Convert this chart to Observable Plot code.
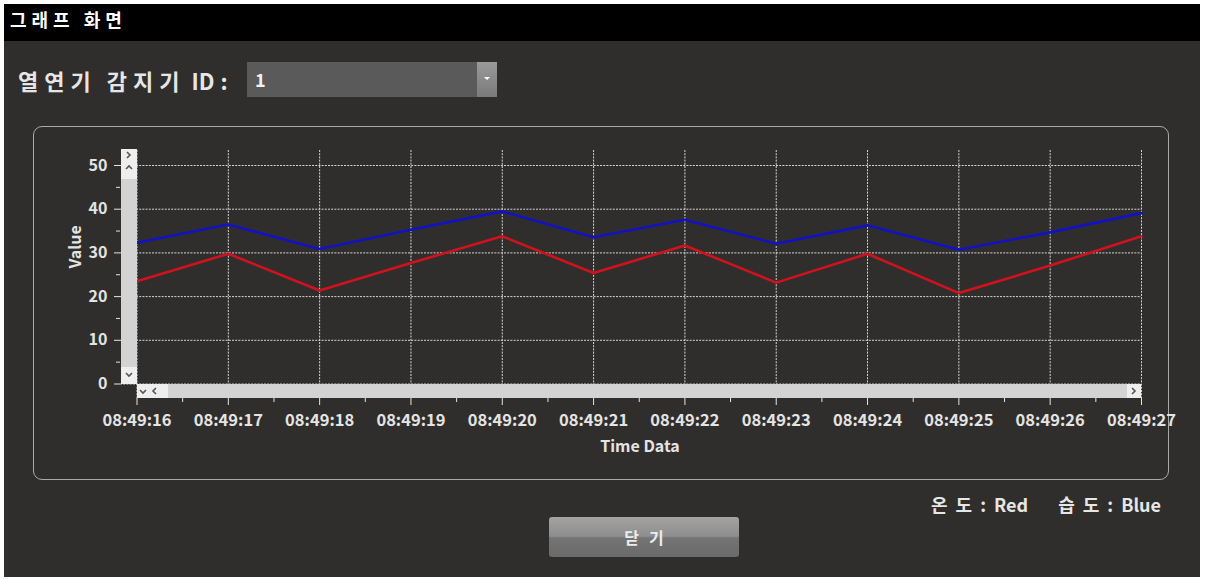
<!DOCTYPE html>
<html>
<head>
<meta charset="utf-8">
<script src="https://cdn.jsdelivr.net/npm/d3@7"></script>
<script src="https://cdn.jsdelivr.net/npm/@observablehq/plot@0.6"></script>
<style>
  html, body { margin: 0; padding: 0; background: #ffffff; width: 1205px; height: 579px; overflow: hidden; }
  body { position: relative; font-family: "Noto Sans CJK KR", "Open Sans", sans-serif; }
  #win { position: absolute; left: 4px; top: 4px; width: 1196px; height: 573px; background: #302e2d; }
  #titlebar { position: absolute; left: 4px; top: 4px; width: 1196px; height: 37px; background: #000; }
  #title { position: absolute; left: 10px; top: 7px; color: #fff; font-size: 18px; font-weight: 700; letter-spacing: 5px; line-height: 24px; }
  #idlabel { position: absolute; left: 18px; top: 65px; color: #e6e6e6; font-size: 22px; font-weight: 700; line-height: 30px; white-space: nowrap; }
  #idlabel span, #legend span { display: inline-block; }
  .ko1 { letter-spacing: 6px; margin-right: 10px; }
  .ko2 { letter-spacing: 6px; margin-right: 6px; }
  .colon { margin-left: 6px; }
  #combo { position: absolute; left: 247px; top: 62px; width: 250px; height: 35px; background: #5a5a5a; }
  #combo .val { position: absolute; left: 8px; top: 4px; color: #f2f2f2; font-size: 18px; font-weight: 700; line-height: 26px; }
  #combo .btn { position: absolute; right: 0; top: 0; width: 20px; height: 35px; background: linear-gradient(#9a9a9a, #7a7a7a); }
  #combo .btn::after { content: ""; position: absolute; left: 7px; top: 15px; border-left: 3px solid transparent; border-right: 3px solid transparent; border-top: 3px solid #fff; }
  #panel { position: absolute; left: 33px; top: 126px; width: 1134px; height: 352px; border: 1.5px solid #a9a9a9; border-radius: 9px; }
  #chart { position: absolute; left: 40px; top: 135px; }
  .sb { position: absolute; background: #d3d3d3; }
  .sbend { position: absolute; background: #eeeeee; }
  .sbend svg { position: absolute; }
  #legend { position: absolute; right: 44px; top: 491px; color: #e6e6e6; font-size: 18px; font-weight: 700; line-height: 26px; white-space: nowrap; }
  #legend .lk { letter-spacing: 8px; }
  #legend .lc { margin: 0 8px 0 0; }
  #legend .gap { width: 30px; }
  #close { position: absolute; left: 549px; top: 517px; width: 190px; height: 40px; border-radius: 3px;
           background: linear-gradient(#a3a3a3 0%, #8e8e8e 48%, #747474 52%, #6a6a6a 100%); color: #ececec; font-size: 16px; font-weight: 700; text-align: center; line-height: 40px; }
  #close span { display: inline-block; letter-spacing: 10px; margin-right: -10px; }
</style>
</head>
<body>
<div id="win"></div>
<div id="titlebar"></div>
<div id="title">그래프 화면</div>
<div id="idlabel"><span class="ko1">열연기</span><span class="ko2">감지기</span><span>ID</span><span class="colon">:</span></div>
<div id="combo"><div class="val">1</div><div class="btn"></div></div>
<div id="panel"></div>
<div id="chart"></div>
<div class="sb" style="left:121px; top:149px; width:16px; height:235px;"></div>
<div class="sbend" style="left:121px; top:149px; width:16px; height:30px;">
  <svg width="16" height="30"><polyline points="6,3 9,6 6,9" fill="none" stroke="#555" stroke-width="1.6"/><polyline points="5,20 8,17 11,20" fill="none" stroke="#555" stroke-width="1.6"/></svg>
</div>
<div class="sbend" style="left:121px; top:367px; width:16px; height:17px;">
  <svg width="16" height="17"><polyline points="5,6 8,9 11,6" fill="none" stroke="#555" stroke-width="1.6"/></svg>
</div>
<div class="sb" style="left:137px; top:384px; width:1004px; height:14px;"></div>
<div class="sbend" style="left:137px; top:384px; width:31px; height:14px;">
  <svg width="31" height="14"><polyline points="3,6 6,9 9,6" fill="none" stroke="#555" stroke-width="1.6"/><polyline points="19,4 16,7 19,10" fill="none" stroke="#555" stroke-width="1.6"/></svg>
</div>
<div class="sbend" style="left:1127px; top:384px; width:14px; height:14px;">
  <svg width="14" height="14"><polyline points="5,4 8,7 5,10" fill="none" stroke="#555" stroke-width="1.6"/></svg>
</div>
<div id="legend"><span class="lk">온도</span><span class="lc">:</span><span>Red</span><span class="gap"></span><span class="lk">습도</span><span class="lc">:</span><span>Blue</span></div>
<div id="close"><span>닫기</span></div>
<script>
// ---- data ----
const times = ["08:49:16","08:49:17","08:49:18","08:49:19","08:49:20","08:49:21","08:49:22","08:49:23","08:49:24","08:49:25","08:49:26","08:49:27"];
const temperature = [23.5, 29.8, 21.4, 27.7, 33.8, 25.4, 31.7, 23.2, 29.8, 20.8, 27.1, 33.8]; // 온도 (Red)
const humidity    = [32.3, 36.5, 30.9, 35.3, 39.5, 33.6, 37.6, 32.1, 36.3, 30.7, 34.7, 39.1]; // 습도 (Blue)
const yTicks = [0, 10, 20, 30, 40, 50];
const yMinorTicks = [5, 15, 25, 35, 45];

const parse = d3.utcParse("%H:%M:%S");
const rows = [];
times.forEach((t, i) => {
  rows.push({time: parse(t), value: temperature[i], series: "온도"});
  rows.push({time: parse(t), value: humidity[i], series: "습도"});
});
const tDates = times.map(parse);
const xMinor = tDates.slice(0, -1).map((d, i) => new Date((+d + +tDates[i + 1]) / 2));

const fg = "#e4e4e4";
const font = "'Noto Sans CJK KR', 'Open Sans', sans-serif";

const plot = Plot.plot({
  width: 1150,
  height: 335,
  marginLeft: 80,
  marginRight: 49,
  marginTop: 15,
  marginBottom: 72,
  style: {background: "transparent", color: fg, fontFamily: font, fontSize: "16px", fontWeight: "700"},
  x: {type: "utc", domain: [tDates[0], tDates[tDates.length - 1]], insetLeft: 16.5},
  y: {domain: [0, 50], insetTop: 15, insetBottom: 14.5},
  color: {domain: ["온도", "습도"], range: ["#d0121e", "#1212c4"]},
  marks: [
    Plot.gridY(yTicks, {stroke: "#e8e8e8", strokeOpacity: 0.9, strokeDasharray: "2,1.2", strokeWidth: 1}),
    Plot.gridX(tDates, {stroke: "#e8e8e8", strokeOpacity: 0.9, strokeDasharray: "2,1.2", strokeWidth: 1}),
    Plot.line(rows, {x: "time", y: "value", z: "series", stroke: "series", strokeWidth: 2.6}),
    Plot.axisY(yTicks, {tickSize: 6, tickPadding: 7, label: null, stroke: fg, fontSize: 16}),
    Plot.axisY(yMinorTicks, {tickSize: 4, tickFormat: () => "", label: null, stroke: fg}),
    Plot.axisX(tDates, {tickSize: 7, tickPadding: 9, tickFormat: d3.utcFormat("%H:%M:%S"), label: null, stroke: fg, fontSize: 16.5}),
    Plot.axisX(xMinor, {tickSize: 4, tickFormat: () => "", label: null, stroke: fg}),
    Plot.text(["Time Data"], {frameAnchor: "bottom", dx: 9, dy: 48, fill: fg, fontSize: 16, lineAnchor: "middle"}),
    Plot.text(["Value"], {frameAnchor: "left", dx: -45, dy: -6, rotate: -90, fill: fg, fontSize: 16, lineAnchor: "middle"})
  ]
});
document.getElementById("chart").appendChild(plot);
</script>
</body>
</html>
